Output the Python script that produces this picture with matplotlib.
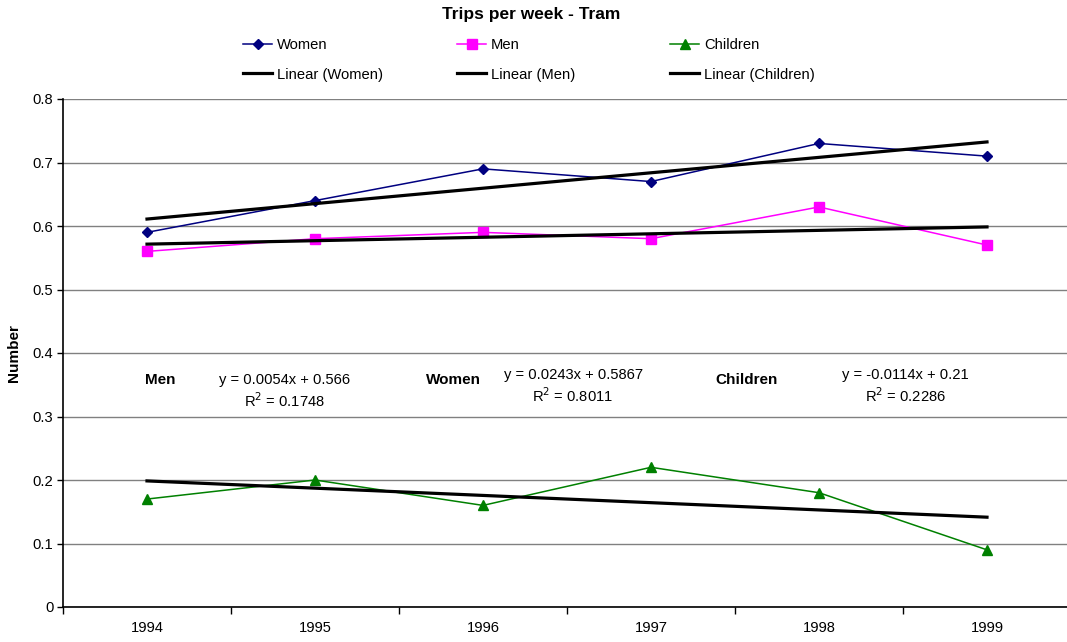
import numpy as np
import matplotlib
matplotlib.use("Agg")
import matplotlib.pyplot as plt
from matplotlib.lines import Line2D

plt.rcParams['font.family'] = ['Liberation Sans', 'DejaVu Sans']

years = ['1994', '1995', '1996', '1997', '1998', '1999']
women = [0.59, 0.64, 0.69, 0.67, 0.73, 0.71]
men = [0.56, 0.58, 0.59, 0.58, 0.63, 0.57]
children = [0.17, 0.20, 0.16, 0.22, 0.18, 0.09]
yticks = [0, 0.1, 0.2, 0.3, 0.4, 0.5, 0.6, 0.7, 0.8]

FS = 10.6
FB = 11

fig = plt.figure(figsize=(10.67, 6.42), dpi=100)
ax = fig.add_axes([63/1067, 35/642, 1008/1067, 508/642])

x = np.arange(1, len(years) + 1)
series = [
    ('Women', women, '#000080', 'D', 5.5),
    ('Men', men, '#FF00FF', 's', 6.5),
    ('Children', children, '#008000', '^', 6.5),
]
for name, vals, col, mk, ms in series:
    ax.plot(x, vals, color=col, marker=mk, markersize=ms, lw=1.1,
            markeredgecolor=col, markerfacecolor=col, zorder=3)
for name, vals, col, mk, ms in series:
    k, b = np.polyfit(x, vals, 1)
    ax.plot(x, k * x + b, color='black', lw=2.3, zorder=4)

ax.set_xlim(0.5, 6.5)
ax.set_ylim(0, 0.8)
ax.set_yticks(yticks)
ax.set_yticklabels(['0' if v == 0 else f'{v:.1f}' for v in yticks], fontsize=FS)
ax.yaxis.grid(True, color='#808080', lw=1)
ax.set_axisbelow(True)
ax.set_xticks(np.arange(0.5, 7, 1))
ax.set_xticklabels([])
ax.set_xticks(x, minor=True)
ax.set_xticklabels(years, minor=True, fontsize=FS)
ax.tick_params(axis='x', which='minor', length=0, pad=10)
ax.tick_params(axis='x', which='major', length=5, direction='out', width=1)
ax.tick_params(axis='y', length=4, direction='out', width=1, pad=3)
for s in ['top', 'right']:
    ax.spines[s].set_visible(False)
for s in ['left', 'bottom']:
    ax.spines[s].set_color('black')
    ax.spines[s].set_linewidth(1.2)

ax.set_ylabel('Number', fontsize=FB, fontweight='bold', labelpad=8)

fig.text(531/1067, 1 - 15/642, 'Trips per week - Tram', ha='center', va='center',
         fontsize=12.5, fontweight='bold')

legend_cols = [
    (243, [Line2D([], [], color='#000080', marker='D', markersize=5.5, lw=1.1),
           Line2D([], [], color='black', lw=2.3)], ['Women', 'Linear (Women)']),
    (457, [Line2D([], [], color='#FF00FF', marker='s', markersize=6.5, lw=1.1),
           Line2D([], [], color='black', lw=2.3)], ['Men', 'Linear (Men)']),
    (670, [Line2D([], [], color='#008000', marker='^', markersize=6.5, lw=1.1),
           Line2D([], [], color='black', lw=2.3)], ['Children', 'Linear (Children)']),
]
for xp, hs, ls in legend_cols:
    lg = fig.legend(hs, ls, loc='center left', bbox_to_anchor=(xp/1067, 1 - 60/642),
                    frameon=False, fontsize=FS, handlelength=2.0, handletextpad=0.3,
                    labelspacing=1.03, borderpad=0, borderaxespad=0, numpoints=1)

def px(xp, yp):
    return xp / 1067, 1 - yp / 642

fig.text(*px(160, 380), 'Men', ha='center', va='center', fontsize=FB, fontweight='bold')
fig.text(*px(285, 380), 'y = 0.0054x + 0.566', ha='center', va='center', fontsize=FS)
fig.text(*px(285, 401), 'R$^2$ = 0.1748', ha='center', va='center', fontsize=FS)
fig.text(*px(453, 380), 'Women', ha='center', va='center', fontsize=FB, fontweight='bold')
fig.text(*px(574, 375), 'y = 0.0243x + 0.5867', ha='center', va='center', fontsize=FS)
fig.text(*px(573, 396), 'R$^2$ = 0.8011', ha='center', va='center', fontsize=FS)
fig.text(*px(747, 380), 'Children', ha='center', va='center', fontsize=FB, fontweight='bold')
fig.text(*px(905, 375), 'y = -0.0114x + 0.21', ha='center', va='center', fontsize=FS)
fig.text(*px(906, 396), 'R$^2$ = 0.2286', ha='center', va='center', fontsize=FS)

fig.savefig('out.png', dpi=100)
